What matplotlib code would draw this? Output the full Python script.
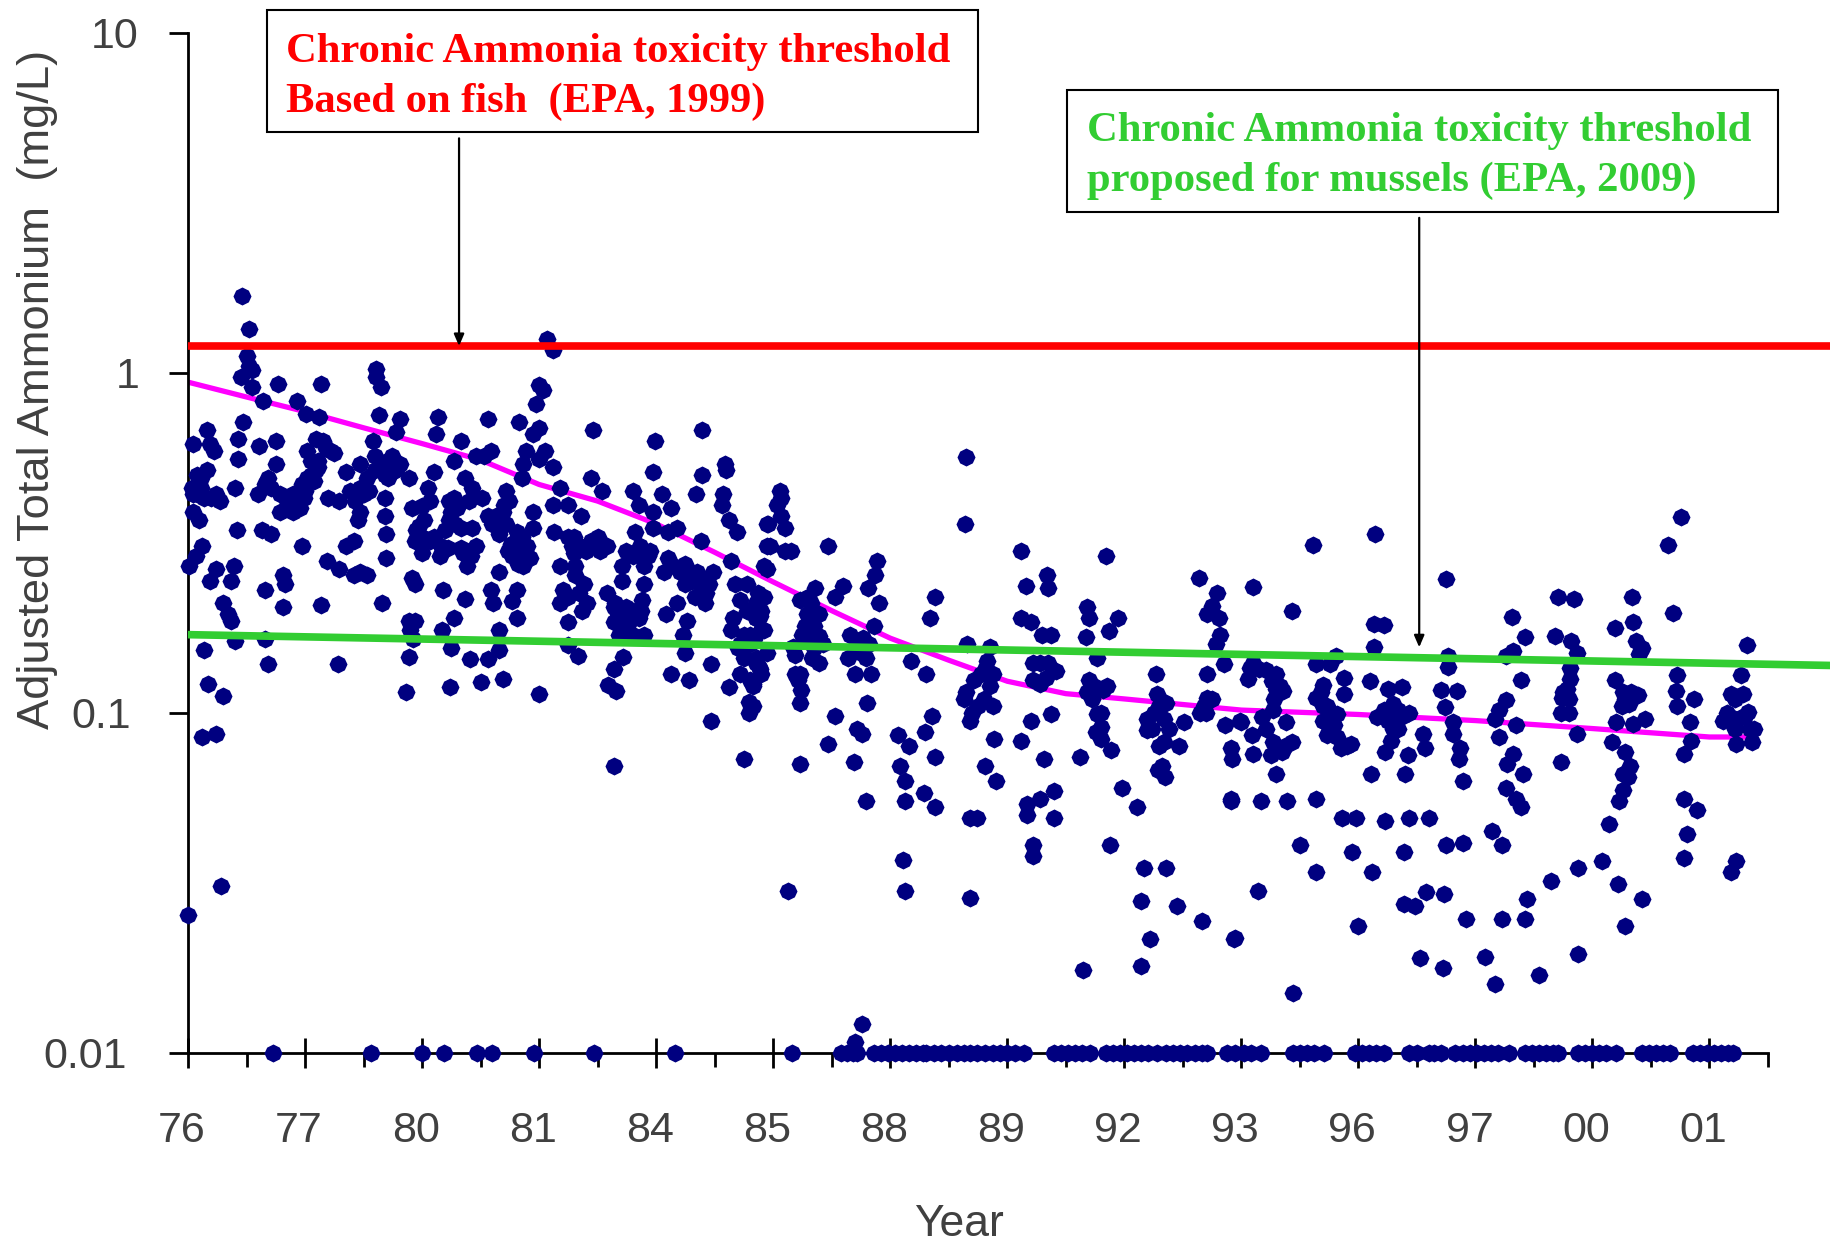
import matplotlib
matplotlib.use("Agg")
import matplotlib.pyplot as plt
from matplotlib.patches import Rectangle
from matplotlib.transforms import ScaledTranslation

W, H = 1830, 1243

year_labels = ['76', '77', '80', '81', '84', '85', '88', '89', '92', '93', '96', '97', '00', '01']

# (position along the sample axis, ammonium mg/L)
obs_early = [
    (.46, 1.68), (.52, 1.35), (.50, 1.12), (.52, 1.05), (.45, .97), (.55, 1.02), (.55, .91), (.64, .83),
    (.77, .93), (1.14, .93), (.93, .83), (1.01, .76), (1.12, .74), (.47, .72), (.04, .62), (.16, .68),
    (.19, .62), (.22, .59), (.43, .64), (.43, .56), (.61, .61), (.75, .63), (1.09, .64), (1.02, .59),
    (1.22, .59), (1.11, .55), (.75, .54), (.68, .49), (.16, .52), (.11, .49), (.03, .46), (.04, .44),
    (.40, .46), (.60, .44), (.71, .46), (.79, .44), (.97, .46), (1.02, .49), (1.11, .53), (.93, .42),
    (.04, .39), (.09, .37), (.14, .43), (.27, .42), (.89, .41), (.79, .39), (.99, .43), (.97, .47),
    (.66, .47), (1.09, .52), (1.15, .63), (1.25, .58), (.14, .153), (.17, .122), (.30, .112), (.12, .085),
    (.24, .087), (.40, .163), (.66, .165), (.68, .139), (1.28, .139), (.30, .21), (.34, .195), (.37, .187),
    (.66, .23), (.81, .205), (1.14, .208), (.81, .255), (.83, .24), (.24, .265), (.19, .245), (.39, .27),
    (.37, .245), (.12, .31), (.07, .29), (.01, .27), (.42, .345), (.63, .345), (.71, .335), (.97, .31),
    (1.19, .28), (1.29, .265), (1.35, .31), (1.42, .32), (1.47, .26), (1.42, .255), (1.53, .255), (0, .0255),
    (.28, .031), (.20, .43), (.08, .44), (.85, .42), (.95, .44), (1.05, .55), (1.18, .6), (.9, .44),
    (.08, .5), (.11, .46), (.24, .44), (.9, .39), (.96, .4), (1.0, .45), (1.05, .5), (1.08, .48),
]

obs_mid = [
    (1.69, .335), (1.69, .285), (1.68, .38), (1.68, .43), (1.45, .37), (1.47, .39), (1.43, .42), (1.47, .46),
    (1.38, .45), (1.55, .45), (1.20, .43), (1.29, .42), (1.53, .49), (1.35, .51), (1.47, .54), (1.58, .63),
    (1.63, .75), (1.6, .57), (1.74, .57), (1.81, .54), (1.71, .49), (1.89, .49), (1.78, .67), (1.81, .73),
    (1.61, 1.03), (1.61, .97), (1.65, .91), (2.14, .74), (2.12, .66), (2.33, .63), (2.56, .73), (2.83, .72),
    (3.0, .92), (3.03, .89), (2.97, .81), (3.0, .69), (2.95, .66), (3.46, .68), (3.99, .63), (4.39, .68),
    (3.07, 1.26), (3.12, 1.17), (4.59, .54), (4.6, .52), (4.57, .44), (4.56, .41), (4.62, .37), (4.34, .44),
    (4.39, .5), (3.97, .51), (3.44, .49), (3.54, .45), (3.8, .45), (3.85, .41), (3.97, .39), (4.05, .44),
    (4.13, .40), (3.36, .38), (3.18, .46), (3.12, .41), (3.25, .41), (2.95, .39), (3.13, .34), (3.82, .34),
    (3.97, .35), (4.1, .34), (4.18, .35), (4.38, .32), (4.64, .28), (4.69, .34), (4.95, .36), (4.95, .31),
    (4.92, .27), (2.89, .59), (3.05, .59), (2.86, .54), (3.12, .53), (3.0, .56), (2.53, .57), (2.59, .59),
    (2.46, .57), (2.27, .55), (2.1, .51), (2.05, .46), (2.37, .49), (2.43, .46), (2.51, .43), (2.27, .43),
    (2.4, .42), (2.07, .42), (1.91, .40), (2.0, .405), (2.72, .45), (2.85, .49), (2.74, .42), (2.69, .39),
    (2.56, .38), (2.43, .35), (2.33, .35), (2.23, .37), (2.2, .345), (1.97, .355), (1.94, .32), (2.07, .32),
    (2.0, .295), (2.22, .305), (2.33, .305), (2.46, .31), (2.38, .27), (2.66, .335), (2.81, .34), (2.95, .35),
    (2.76, .315), (2.9, .31), (2.92, .285), (2.82, .275), (3.25, .33), (3.3, .295), (3.44, .32), (3.58, .31),
    (3.18, .27), (3.31, .27), (3.74, .30), (3.93, .29), (3.9, .27), (3.71, .27), (4.1, .285), (4.07, .26),
    (4.25, .275), (4.38, .25), (4.49, .26), (4.31, .245), (4.43, .225), (4.67, .24), (4.88, .215), (4.72, .215),
    (4.66, .19), (4.85, .19), (4.64, .175), (4.92, .175), (4.75, .145), (4.88, .137), (4.72, .13), (4.83, .122),
    (4.62, .119), (4.79, .108), (4.79, .10), (4.47, .139), (4.26, .187), (4.23, .17), (4.25, .15), (4.18, .21),
    (4.08, .195), (4.13, .13), (4.28, .125), (3.9, .24), (3.88, .215), (3.71, .245), (3.58, .225), (3.64, .205),
    (3.74, .205), (3.87, .2), (3.64, .185), (3.77, .185), (3.8, .17), (3.9, .17), (3.25, .185), (3.25, .158),
    (3.33, .147), (3.72, .146), (3.64, .135), (3.59, .121), (3.66, .116), (3.2, .23), (3.18, .21), (3.38, .24),
    (3.41, .21), (3.31, .255), (2.66, .26), (2.59, .23), (2.81, .23), (2.77, .213), (2.37, .216), (2.18, .23),
    (2.81, .19), (2.27, .19), (2.61, .21), (2.66, .175), (2.66, .153), (2.56, .144), (2.41, .144), (2.25, .155),
    (2.17, .175), (1.89, .187), (1.94, .187), (1.9, .175), (1.92, .165), (1.89, .146), (1.86, .115), (2.24, .119),
    (2.5, .123), (2.69, .126), (3.0, .114), (3.64, .07), (4.47, .095), (4.75, .073), (1.91, .25), (1.94, .24),
    (1.66, .21), (4.8, .16), (4.7, .155), (4.95, .15), (4.78, .2), (4.9, .13), (4.84, .165), (2.02, .37),
    (1.5, .44), (1.6, .52), (1.66, .53), (1.7, .55), (1.78, .52), (1.68, .5), (2.23, .42), (2.3, .4),
    (2.16, .31), (2.1, .33), (2.0, .33), (1.95, .345), (2.15, .29), (2.4, .3), (2.42, .29), (2.35, .295),
    (2.25, .39), (2.28, .36), (2.6, .36), (2.63, .38), (2.7, .41), (2.72, .36), (2.8, .32), (2.85, .33),
    (2.73, .3), (2.77, .29), (2.86, .27), (2.88, .3), (3.3, .33), (3.35, .31), (3.5, .33), (3.52, .3),
    (3.28, .31), (3.4, .3), (3.46, .31), (3.25, .22), (3.34, .225), (3.37, .2), (3.65, .21), (3.67, .195),
    (3.72, .19), (3.8, .2), (3.85, .19), (3.68, .17), (3.75, .18), (4.35, .26), (4.4, .24), (4.33, .22),
    (4.45, .24), (4.38, .225), (4.3, .26), (4.42, .21), (4.8, .17), (4.75, .17), (4.85, .14), (4.72, .16),
    (4.8, .125), (4.85, .21), (4.78, .24), (4.9, .2), (3.86, .31), (3.8, .29), (3.95, .3), (4.15, .27),
    (4.2, .26), (4.25, .24),
]

obs_late = [
    (6.65, .567), (6.64, .36), (7.12, .30), (7.84, .29), (8.64, .25), (5.06, .45), (5.07, .43), (5.03, .41),
    (5.07, .38), (4.96, .36), (5.1, .35), (4.97, .31), (5.1, .3), (5.15, .30), (5.47, .31), (4.95, .266),
    (5.89, .28), (5.87, .255), (5.81, .233), (5.9, .21), (5.6, .236), (5.53, .22), (5.36, .233), (5.23, .215),
    (5.32, .21), (5.29, .195), (5.39, .195), (5.39, .168), (5.29, .165), (5.17, .156), (5.39, .14), (5.19, .148),
    (4.87, .225), (4.92, .22), (4.89, .193), (4.85, .19), (4.9, .175), (4.86, .145), (4.89, .135), (4.83, .12),
    (4.83, .105), (5.19, .13), (5.24, .117), (5.23, .107), (5.8, .107), (5.53, .098), (5.72, .09), (5.76, .087),
    (5.47, .081), (5.23, .071), (5.69, .072), (5.79, .055), (5.66, .17), (5.77, .166), (5.86, .18), (5.64, .145),
    (5.79, .145), (5.84, .13), (5.7, .13), (6.18, .142), (6.31, .13), (6.38, .22), (6.34, .19), (6.63, .11),
    (6.68, .095), (6.8, .11), (6.88, .105), (6.36, .098), (6.3, .088), (6.07, .086), (6.16, .08), (6.08, .07),
    (6.13, .063), (6.38, .074), (6.89, .084), (7.12, .083), (6.81, .07), (6.9, .063), (6.29, .058), (6.13, .055),
    (6.38, .053), (6.74, .049), (6.68, .049), (6.83, .142), (6.88, .13), (6.81, .135), (6.66, .16), (6.85, .156),
    (6.11, .037), (6.13, .03), (6.68, .0285), (5.13, .03), (7.3, .17), (7.2, .185), (7.12, .19), (7.37, .17),
    (7.34, .255), (7.35, .233), (7.16, .236), (7.28, .14), (7.42, .133), (7.28, .122), (7.68, .205), (7.7, .19),
    (7.67, .167), (7.95, .19), (7.87, .174), (7.77, .145), (7.74, .12), (7.82, .117), (7.2, .095), (7.37, .099),
    (7.31, .073), (7.62, .074), (7.77, .099), (7.8, .091), (7.8, .084), (7.89, .078), (7.98, .06), (8.11, .053),
    (7.88, .041), (8.17, .035), (8.36, .035), (8.14, .028), (8.45, .027), (8.66, .0245), (8.22, .0216), (8.94, .0216),
    (7.65, .0175), (8.14, .018), (7.4, .059), (7.17, .054), (7.17, .05), (7.28, .056), (7.4, .049), (7.22, .041),
    (7.22, .038), (8.79, .226), (8.75, .207), (8.71, .195), (8.81, .19), (8.82, .17), (8.78, .16), (8.85, .139),
    (8.71, .13), (8.27, .13), (8.28, .114), (8.36, .107), (8.19, .096), (8.19, .089), (8.34, .096), (8.34, .082),
    (8.51, .094), (8.47, .08), (8.29, .068), (8.35, .065), (8.71, .111), (8.65, .1), (8.86, .092), (8.99, .095),
    (8.91, .079), (8.92, .073), (8.91, .055), (5.3, .22), (5.34, .2), (5.27, .18), (5.35, .18), (5.25, .17),
    (5.43, .16), (5.33, .145), (5.35, .155), (5.21, .125), (5.23, .13), (5.75, .15), (5.7, .155), (5.82, .16),
    (6.65, .115), (6.7, .1), (6.75, .105), (6.72, .125), (6.78, .13), (6.85, .12), (7.22, .14), (7.35, .14),
    (7.22, .125), (7.33, .127), (7.68, .115), (7.7, .125), (7.72, .11), (7.8, .1), (7.76, .088), (7.85, .12),
    (8.25, .1), (8.3, .105), (8.24, .09), (8.3, .08), (8.38, .09), (8.32, .07), (8.68, .105), (8.75, .11), (8.7, .1),
]

obs_recent = [
    (9.61, .312), (10.14, .335), (10.75, .247), (12.76, .378), (12.65, .312), (9.1, .235), (9.43, .199), (10.13, .183),
    (10.22, .182), (10.13, .156), (9.81, .147), (9.07, .136), (9.21, .134), (9.3, .13), (9.06, .126), (9.3, .118),
    (9.36, .116), (9.64, .139), (9.76, .139), (9.88, .127), (9.7, .121), (9.88, .114), (9.64, .111), (9.73, .105),
    (9.82, .099), (9.79, .092), (9.73, .086), (9.85, .079), (9.94, .081), (10.1, .124), (10.25, .118), (10.37, .119),
    (10.22, .102), (10.34, .102), (10.43, .1), (10.16, .097), (10.3, .09), (10.28, .083), (10.23, .077), (10.42, .075),
    (10.55, .087), (10.57, .079), (10.11, .066), (10.4, .066), (9.3, .066), (9.1, .076), (9.0, .094), (9.09, .086),
    (9.21, .09), (9.27, .082), (9.35, .077), (9.43, .082), (9.38, .094), (9.27, .102), (9.18, .097), (8.91, .056),
    (9.17, .055), (9.39, .055), (9.64, .056), (9.86, .049), (9.98, .049), (10.23, .048), (10.43, .049), (10.6, .049),
    (9.5, .041), (9.95, .039), (10.39, .039), (9.64, .034), (10.12, .034), (9.14, .03), (10.0, .0237), (8.95, .0218),
    (9.44, .015), (10.58, .0298), (10.73, .0293), (10.39, .0275), (10.48, .027), (10.92, .0248), (11.23, .0248), (11.42, .0248),
    (11.44, .0283), (11.65, .032), (11.88, .035), (12.08, .0367), (12.22, .0315), (12.42, .0284), (12.28, .0237), (10.53, .019),
    (10.72, .0178), (11.08, .0192), (11.17, .016), (11.54, .017), (11.88, .0196), (10.75, .041), (10.89, .0415), (11.14, .045),
    (11.23, .041), (12.14, .047), (13.18, .034), (13.23, .0367), (12.78, .0375), (12.81, .044), (12.78, .056), (12.89, .052),
    (12.26, .0595), (12.23, .055), (12.26, .066), (12.32, .07), (12.28, .077), (12.17, .082), (10.89, .063), (10.86, .073),
    (10.87, .079), (10.81, .087), (10.81, .094), (11.32, .076), (11.27, .071), (11.41, .066), (11.26, .06), (11.35, .056),
    (11.39, .053), (11.73, .072), (11.87, .087), (11.2, .085), (11.35, .092), (11.17, .096), (11.2, .102), (11.26, .109),
    (11.39, .125), (11.26, .147), (11.32, .152), (11.42, .167), (11.31, .191), (11.71, .219), (11.84, .216), (11.68, .169),
    (11.82, .163), (11.87, .15), (11.81, .136), (11.81, .126), (11.78, .118), (11.74, .111), (11.73, .1), (12.34, .219),
    (12.69, .197), (12.35, .185), (12.19, .178), (12.37, .163), (12.42, .155), (12.4, .149), (12.19, .125), (12.26, .115),
    (12.39, .113), (12.31, .106), (12.2, .094), (12.35, .093), (12.45, .096), (12.72, .129), (12.71, .116), (12.72, .105),
    (12.87, .11), (12.83, .094), (12.84, .083), (12.78, .076), (13.32, .158), (13.27, .129), (13.18, .114), (13.29, .114),
    (13.18, .097), (13.33, .101), (13.23, .081), (13.36, .082), (13.12, .095), (13.28, .097), (10.77, .137), (10.77, .147),
    (10.71, .117), (10.84, .116), (10.74, .104), (5.76, .0122), (5.7, .0108), (9.1, .14), (9.15, .135), (9.26, .124),
    (9.33, .12), (9.28, .11), (9.7, .105), (9.76, .1), (9.7, .095), (9.76, .09), (9.82, .085), (9.9, .08),
    (9.68, .115), (10.3, .106), (10.38, .098), (10.25, .095), (10.3, .098), (10.34, .09), (11.8, .1), (11.75, .115),
    (11.8, .11), (12.28, .11), (12.33, .115), (12.25, .105), (12.3, .065), (13.22, .11), (13.3, .098), (13.15, .1),
    (13.35, .09), (13.38, .09), (13.22, .09), (9.25, .075), (9.3, .08), (9.37, .08),
]

# samples at the detection limit
limit_x = [
    .73, 1.56, 2.0, 2.19, 2.47, 2.6, 2.96, 3.47, 4.16, 5.16, 5.58, 5.63, 5.68, 5.72, 5.86, 5.92, 5.98, 6.04, 6.1, 6.16,
    6.22, 6.28, 6.31, 6.37, 6.43, 6.5, 6.57, 6.63, 6.68, 6.74, 6.81, 6.88, 6.94, 7.0, 7.07, 7.14, 7.4, 7.46, 7.52, 7.58,
    7.64, 7.71, 7.84, 7.9, 7.96, 8.02, 8.08, 8.14, 8.2, 8.28, 8.36, 8.42, 8.48, 8.54, 8.6, 8.66, 8.71, 8.88, 8.95, 9.02,
    9.08, 9.17, 9.44, 9.5, 9.56, 9.62, 9.71, 9.97, 10.03, 10.09, 10.15, 10.22, 10.43, 10.5, 10.6, 10.65, 10.71, 10.83, 10.89, 10.95,
    11.01, 11.07, 11.13, 11.19, 11.29, 11.42, 11.48, 11.54, 11.6, 11.66, 11.71, 11.88, 11.94, 12.0, 12.06, 12.12, 12.2, 12.42, 12.48, 12.54,
    12.6, 12.66, 12.86, 12.92, 12.98, 13.04, 13.1, 13.16, 13.2,
]
limit_value = 0.01

trend_x = [0, .5, 1, 1.5, 2, 2.5, 3, 3.5, 4, 4.5, 5, 5.5, 6, 6.5, 7, 7.5, 8, 9, 10, 11, 12, 13, 13.3]
trend_y = [.94, .85, .77, .69, .62, .555, .47, .42, .36, .297, .243, .2, .166, .143, .124, .114, .11, .102, .099, .095, .09, .085, .085]

fish_threshold = 1.2
mussel_x = [0, 14.03]
mussel_y = [.17, .138]

fig = plt.figure(figsize=(W / 100, H / 100), dpi=100)
ax = fig.add_axes([188 / W, 1 - 1053 / H, 1 - 188 / W, 1020 / H])
ax.set_yscale('log')
ax.set_ylim(0.01, 10)
ax.set_xlim(0, 14.03)

sans = 'Liberation Sans'
serif = 'Liberation Serif'
gray = '#404040'
plump = [(0, 1), (.7, .65), (1, 0), (.7, -.65), (0, -1), (-.7, -.65), (-1, 0), (-.7, .65)]

ax.plot(trend_x, trend_y, color='#ff00ff', lw=3.8, zorder=2)

for obs in [obs_early, obs_mid, obs_late, obs_recent]:
    xs, ys = zip(*obs)
    ax.plot(xs, ys, ls='none', marker=plump, color='#000080', ms=13, mew=0, clip_on=False, zorder=3)
ax.plot(limit_x, [limit_value] * len(limit_x), ls='none', marker=plump, color='#000080', ms=13, mew=0,
        clip_on=False, zorder=3)

ax.axhline(fish_threshold, color='#ff0000', lw=5.5, zorder=4)
ax.plot(mussel_x, mussel_y, color='#32cd32', lw=5.5, zorder=4)

for s in ['top', 'right']:
    ax.spines[s].set_visible(False)
for s in ['left', 'bottom']:
    ax.spines[s].set_linewidth(2)
ax.spines['bottom'].set_bounds(0, 13.5)

ax.set_yticks([0.01, 0.1, 1, 10])
ax.set_yticklabels(['0.01', '0.1', '1', '10'], fontfamily=sans, fontsize=31, color=gray)
ax.minorticks_off()
ax.tick_params(axis='y', length=14, width=2, pad=26)
# the labels do not share a right edge in the original
for lab, dx in zip(ax.get_yticklabels(), [-6, -1, 7, 6]):
    lab.set_transform(lab.get_transform() + ScaledTranslation(dx / 100, 0, fig.dpi_scale_trans))

ax.set_xticks(range(len(year_labels)))
ax.set_xticklabels(year_labels, fontfamily=sans, fontsize=31, color=gray)
ax.set_xticks([i + 0.5 for i in range(len(year_labels))], minor=True)
ax.tick_params(axis='x', which='major', direction='inout', length=22, width=2, pad=31)
ax.tick_params(axis='x', which='minor', direction='out', length=10, width=2)
shift = ScaledTranslation(-6 / 100, 0, fig.dpi_scale_trans)
for lab in ax.get_xticklabels():
    lab.set_transform(lab.get_transform() + shift)

fig.text(959 / W, 1 - 1224 / H, 'Year', family=sans, fontsize=32, color=gray, ha='center', va='center')
fig.text(38 / W, 1 - 389 / H, 'Adjusted Total Ammonium  (mg/L)', family=sans, fontsize=32.7, color=gray,
         rotation=90, ha='center', va='center')

# annotation boxes
for x0, y0, x1, y1 in [(267, 10, 978, 132), (1067, 90, 1778, 212)]:
    fig.add_artist(Rectangle((x0 / W, 1 - y1 / H), (x1 - x0) / W, (y1 - y0) / H, transform=fig.transFigure,
                             fill=False, ec='black', lw=1.5))

red_lines = ['Chronic Ammonia toxicity threshold', 'Based on fish  (EPA, 1999)']
green_lines = ['Chronic Ammonia toxicity threshold', 'proposed for mussels (EPA, 2009)']
for txt, x, y in zip(red_lines, [286, 286], [52, 102]):
    fig.text(x / W, 1 - y / H, txt, family=serif, weight='bold', fontsize=30.7, color='#ff0000', va='center')
for txt, x, y in zip(green_lines, [1087, 1087], [131, 181]):
    fig.text(x / W, 1 - y / H, txt, family=serif, weight='bold', fontsize=30.7, color='#32cd32', va='center')

arrow = dict(arrowstyle='-|>,head_length=0.7,head_width=0.3', color='black', lw=1.6, shrinkA=0, shrinkB=0)
ax.annotate('', xy=(2.316, 1.2), xytext=(2.316, 4.9), arrowprops=arrow, zorder=5, annotation_clip=False)
ax.annotate('', xy=(10.52, .156), xytext=(10.52, 2.86), arrowprops=arrow, zorder=5, annotation_clip=False)

fig.savefig('out.png', dpi=100)
